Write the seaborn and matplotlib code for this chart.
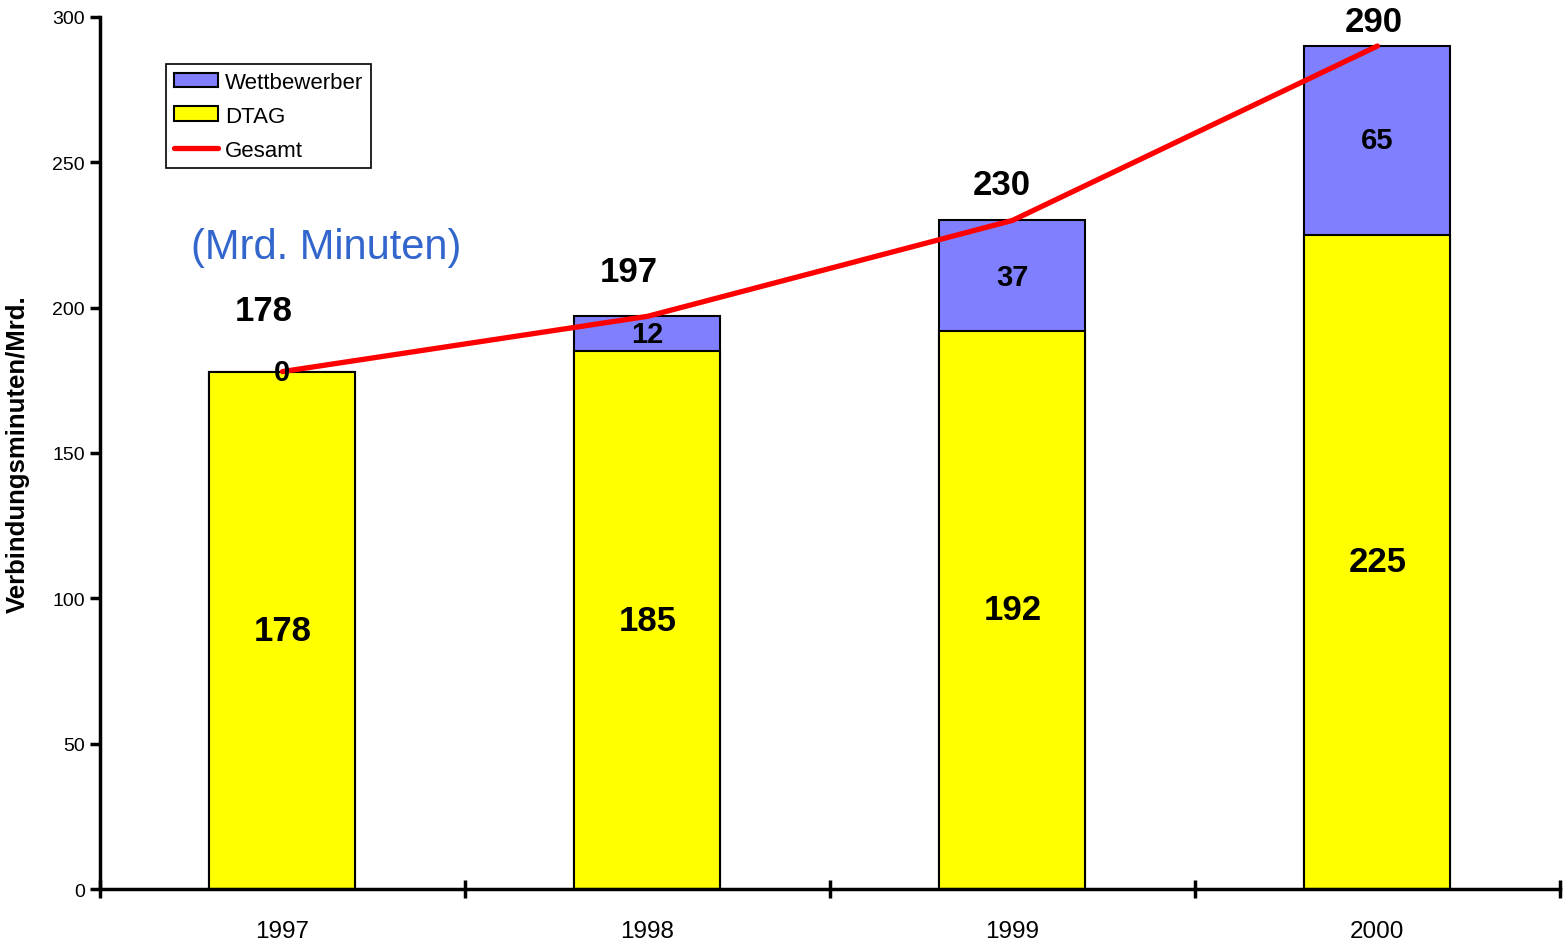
import numpy as np
import pandas as pd
import seaborn as sns
import matplotlib.pyplot as plt
from matplotlib.patches import Patch
from matplotlib.lines import Line2D

# Values (Mrd. Minuten)
years = ['1997', '1998', '1999', '2000']
dtag = [178, 185, 192, 225]
wettbewerber = [0, 12, 37, 65]
gesamt = [178, 197, 230, 290]

# layout only: offsets of the total labels from the line points
total_label_dx = [-0.05, -0.05, -0.03, -0.01]
total_label_dy = [21, 15.5, 12.5, 8.5]

sns.set_style('white')
plt.rcParams['font.family'] = ['Liberation Sans', 'DejaVu Sans']
plt.rcParams['text.color'] = 'black'
plt.rcParams['xtick.color'] = 'black'
plt.rcParams['ytick.color'] = 'black'
plt.rcParams['axes.labelcolor'] = 'black'

df = pd.DataFrame({'Jahr': years, 'DTAG': dtag,
                   'Wettbewerber': wettbewerber, 'Gesamt': gesamt})

fig = plt.figure(figsize=(15.64, 9.45), dpi=100)
ax = fig.add_axes([0.0639, 0.0582, 0.9335, 0.9228])

# stacked bars: total (blue) first, DTAG (yellow) on top of it
sns.barplot(data=df, x='Jahr', y='Gesamt', color='#8080FF', saturation=1,
            width=0.4, edgecolor='black', linewidth=1.5, ax=ax)
sns.barplot(data=df, x='Jahr', y='DTAG', color='#FFFF00', saturation=1,
            width=0.4, edgecolor='black', linewidth=1.5, ax=ax)

pos = np.arange(len(years))
sns.lineplot(x=pos, y=gesamt, color='#FF0000', linewidth=3.8, ax=ax)

# segment labels
for i in range(len(years)):
    ax.text(i, dtag[i] / 2, str(dtag[i]), ha='center', va='center',
            fontsize=25, fontweight='bold')
    ax.text(i, dtag[i] + wettbewerber[i] / 2, str(wettbewerber[i]),
            ha='center', va='center', fontsize=21, fontweight='bold')
    ax.text(i + total_label_dx[i], gesamt[i] + total_label_dy[i],
            str(gesamt[i]), ha='center', va='center', fontsize=25,
            fontweight='bold', clip_on=False)

ax.text(0.12, 221, '(Mrd. Minuten)', ha='center', va='center',
        fontsize=30, color='#3366CC')

ax.set_xlim(-0.5, 3.5)
ax.set_ylim(0, 300)
ax.set_yticks(range(0, 301, 50))
ax.set_xticks(pos)
ax.set_xticklabels(years)
ax.set_xticks(np.arange(-0.5, 3.6, 1), minor=True)
ax.tick_params(axis='x', which='major', length=0, labelsize=17.5, pad=22)
ax.tick_params(axis='x', which='minor', direction='inout', length=13,
               width=2.5, bottom=True)
ax.tick_params(axis='y', direction='out', length=7, width=2.5,
               labelsize=14, left=True, pad=4)
ax.set_xlabel('')
ax.set_ylabel('Verbindungsminuten/Mrd.', fontsize=18.5, fontweight='bold',
              labelpad=16)

sns.despine(ax=ax, top=True, right=True)
for s in ['left', 'bottom']:
    ax.spines[s].set_linewidth(2.5)
    ax.spines[s].set_color('black')

handles = [Patch(facecolor='#8080FF', edgecolor='black', linewidth=1.5),
           Patch(facecolor='#FFFF00', edgecolor='black', linewidth=1.5),
           Line2D([], [], color='#FF0000', linewidth=3.8)]
leg = ax.legend(handles, ['Wettbewerber', 'DTAG', 'Gesamt'],
                loc='upper left', bbox_to_anchor=(0.0452, 0.946),
                fontsize=16, frameon=True, fancybox=False, framealpha=1,
                edgecolor='black', borderpad=0.35, labelspacing=0.58,
                handlelength=2.0, handleheight=0.65, handletextpad=0.3,
                borderaxespad=0)
leg.get_frame().set_linewidth(1.2)

fig.savefig('out.png', dpi=100)
plt.close(fig)
